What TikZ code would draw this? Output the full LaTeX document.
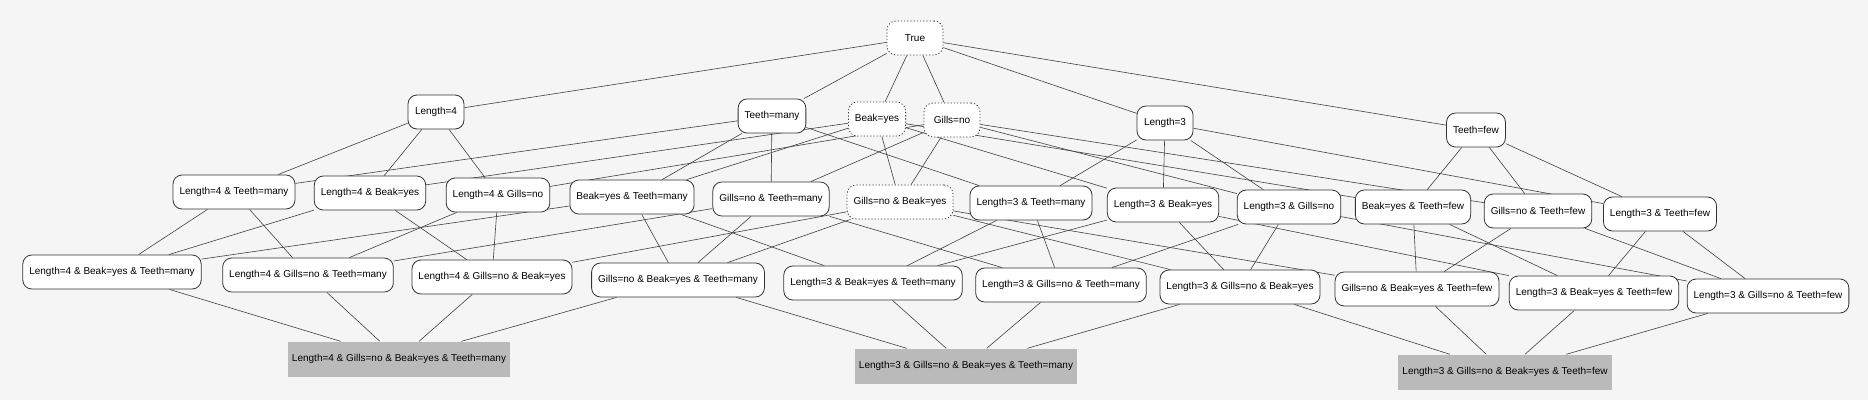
\documentclass[tikz,border=0pt]{standalone}
\usepackage{fontspec}
\setmainfont{Liberation Sans}
\usetikzlibrary{shapes}
\usetikzlibrary{calc}

\pgfdeclarelayer{back}
\pgfsetlayers{back,main}

\begin{document}
\begin{tikzpicture}[x=1pt,y=-1pt]
\tikzstyle{hyp} = [rectangle, draw=black!80, thick, fill=white,
rounded corners=9pt, minimum height=34pt, minimum width=56pt,
inner xsep=6.5pt, font=\fontsize{10}{12}\selectfont]
\tikzstyle{open} = [hyp, dash pattern=on 1.2pt off 2pt]
\tikzstyle{target} = [rectangle, fill=black!27, minimum height=35pt,
inner xsep=4pt, font=\fontsize{10}{12}\selectfont]
\tikzstyle{link} = [draw=black!75, semithick];
\useasboundingbox (0,0) rectangle (1868,400);
\begin{pgfonlayer}{back}
\fill[black!4] (0,0) rectangle (1868,400);
\end{pgfonlayer}
% top
\node [open] (true) at (915,38) {True};
% one literal
\node [hyp] (len4) at (436,112) {Length=4};
\node [hyp] (tmany) at (772,116) {Teeth=many};
\node [open] (byes) at (877,119) {Beak=yes};
\node [open] (gno) at (952,120) {Gills=no};
\node [hyp] (len3) at (1165,123) {Length=3};
\node [hyp] (tfew) at (1476,130) {Teeth=few};
% two literals
\node [hyp] (l4tm) at (234,192) {Length=4 \& Teeth=many};
\node [hyp] (l4by) at (370,193) {Length=4 \& Beak=yes};
\node [hyp] (l4gn) at (498,195) {Length=4 \& Gills=no};
\node [hyp] (bytm) at (632,197) {Beak=yes \& Teeth=many};
\node [hyp] (gntm) at (771,199) {Gills=no \& Teeth=many};
\node [open] (gnby) at (900,202) {Gills=no \& Beak=yes};
\node [hyp] (l3tm) at (1031,203) {Length=3 \& Teeth=many};
\node [hyp] (l3by) at (1163,205) {Length=3 \& Beak=yes};
\node [hyp] (l3gn) at (1289,207) {Length=3 \& Gills=no};
\node [hyp] (bytf) at (1413,207) {Beak=yes \& Teeth=few};
\node [hyp] (gntf) at (1538,211) {Gills=no \& Teeth=few};
\node [hyp] (l3tf) at (1660,214) {Length=3 \& Teeth=few};
% three literals
\node [hyp] (l4bytm) at (112,272) {Length=4 \& Beak=yes \& Teeth=many};
\node [hyp] (l4gntm) at (308,275) {Length=4 \& Gills=no \& Teeth=many};
\node [hyp] (l4gnby) at (492,277) {Length=4 \& Gills=no \& Beak=yes};
\node [hyp] (gnbytm) at (678,280) {Gills=no \& Beak=yes \& Teeth=many};
\node [hyp] (l3bytm) at (873,283) {Length=3 \& Beak=yes \& Teeth=many};
\node [hyp] (l3gntm) at (1061,285) {Length=3 \& Gills=no \& Teeth=many};
\node [hyp] (l3gnby) at (1240,287) {Length=3 \& Gills=no \& Beak=yes};
\node [hyp] (gnbytf) at (1417,289) {Gills=no \& Beak=yes \& Teeth=few};
\node [hyp] (l3bytf) at (1594,293) {Length=3 \& Beak=yes \& Teeth=few};
\node [hyp] (l3gntf) at (1768,296) {Length=3 \& Gills=no \& Teeth=few};
% four literals
\node [target] (all4m) at (399,359) {Length=4 \& Gills=no \& Beak=yes \& Teeth=many};
\node [target] (all3m) at (966,366) {Length=3 \& Gills=no \& Beak=yes \& Teeth=many};
\node [target] (all3f) at (1505,372) {Length=3 \& Gills=no \& Beak=yes \& Teeth=few};

\begin{pgfonlayer}{back}
\foreach \s in {len4,tmany,byes,gno,len3,tfew}
  \draw[link] (true) -- (\s);
\foreach \a/\b in {len4/l4tm, len4/l4by, len4/l4gn,
  tmany/l4tm, tmany/bytm, tmany/gntm, tmany/l3tm,
  byes/l4by, byes/bytm, byes/gnby, byes/l3by, byes/bytf,
  gno/l4gn, gno/gntm, gno/gnby, gno/l3gn, gno/gntf,
  len3/l3tm, len3/l3by, len3/l3gn, len3/l3tf,
  tfew/bytf, tfew/gntf, tfew/l3tf}
  \draw[link] (\a) -- (\b);
\foreach \a/\b in {l4tm/l4bytm, l4by/l4bytm, bytm/l4bytm,
  l4tm/l4gntm, l4gn/l4gntm, gntm/l4gntm,
  l4gn/l4gnby, l4by/l4gnby, gnby/l4gnby,
  gntm/gnbytm, gnby/gnbytm, bytm/gnbytm,
  l3tm/l3bytm, l3by/l3bytm, bytm/l3bytm,
  l3tm/l3gntm, l3gn/l3gntm, gntm/l3gntm,
  l3gn/l3gnby, l3by/l3gnby, gnby/l3gnby,
  gnby/gnbytf, bytf/gnbytf, gntf/gnbytf,
  l3by/l3bytf, l3tf/l3bytf, bytf/l3bytf,
  l3gn/l3gntf, l3tf/l3gntf, gntf/l3gntf}
  \draw[link] (\a) -- (\b);
\foreach \a/\b in {l4bytm/all4m, l4gntm/all4m, l4gnby/all4m, gnbytm/all4m,
  gnbytm/all3m, l3bytm/all3m, l3gntm/all3m, l3gnby/all3m,
  l3gnby/all3f, gnbytf/all3f, l3bytf/all3f, l3gntf/all3f}
  \draw[link] (\a) -- (\b);
\end{pgfonlayer}
\end{tikzpicture}
\end{document}
